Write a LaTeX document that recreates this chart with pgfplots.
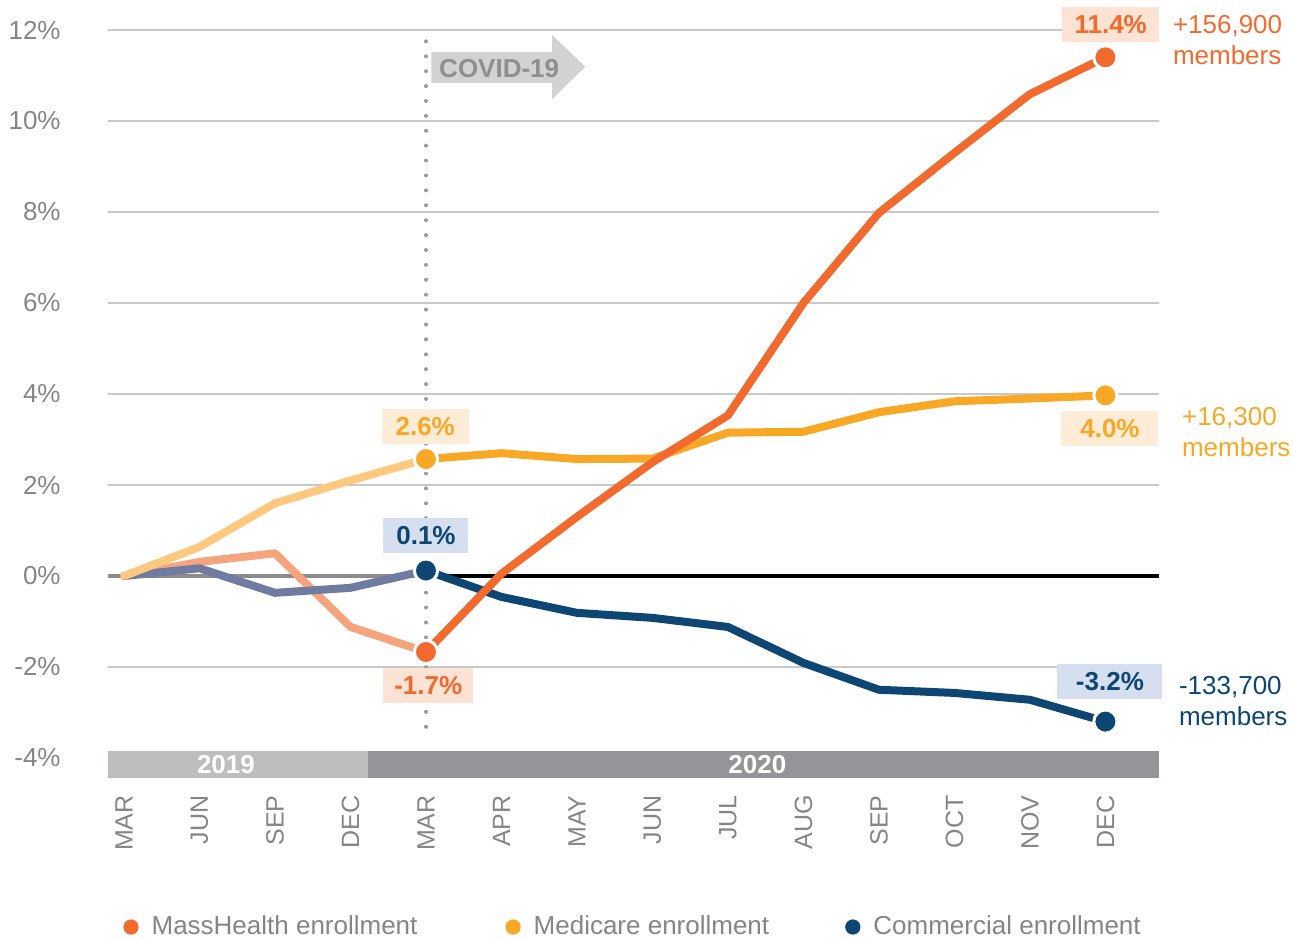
\documentclass[border=0pt]{standalone}
\usepackage{fontspec}
\setmainfont{Liberation Sans}
\usepackage{pgfplots}
\usepackage{pgfplotstable}
\pgfplotsset{compat=1.18}

\definecolor{colMH}{HTML}{F26A2E}
\definecolor{colMHl}{HTML}{F5A47D}
\definecolor{colMC}{HTML}{F9A826}
\definecolor{colMCl}{HTML}{FDC97E}
\definecolor{colCM}{HTML}{0D4673}
\definecolor{colCMl}{HTML}{6F7BA1}
\definecolor{mhbg}{HTML}{FDE3D4}
\definecolor{mcbg}{HTML}{FEECD6}
\definecolor{cmbg}{HTML}{D5DFF0}
\definecolor{tickgray}{HTML}{858585}
\definecolor{gridgray}{HTML}{C8C8C8}
\definecolor{bar19}{HTML}{BDBEC0}
\definecolor{bar20}{HTML}{939598}
\definecolor{covid}{HTML}{D1D2D4}
\definecolor{covidtxt}{HTML}{8E8F91}
\definecolor{dotgray}{HTML}{9A9A9A}
\definecolor{zerogray}{HTML}{8C8C8C}

% 2019 segments (MAR19..MAR20) and 2020 segments (MAR20..DEC20)
\pgfplotstableread{
x y
0 0
1 0.31
2 0.50
3 -1.12
4 -1.67
}\mhA
\pgfplotstableread{
x y
4 -1.67
5 0.05
6 1.30
7 2.50
8 3.53
9 6.00
10 7.98
11 9.30
12 10.59
13 11.40
}\mhB
\pgfplotstableread{
x y
0 0
1 0.64
2 1.60
3 2.10
4 2.57
}\mcA
\pgfplotstableread{
x y
4 2.57
5 2.70
6 2.57
7 2.58
8 3.15
9 3.17
10 3.60
11 3.84
12 3.90
13 3.97
}\mcB
\pgfplotstableread{
x y
0 0
1 0.17
2 -0.37
3 -0.26
4 0.12
}\cmA
\pgfplotstableread{
x y
4 0.12
5 -0.46
6 -0.81
7 -0.92
8 -1.12
9 -1.91
10 -2.50
11 -2.57
12 -2.72
13 -3.20
}\cmB

\begin{document}
\begin{tikzpicture}
\begin{axis}[
  scale only axis, width=525.5pt, height=374pt,
  xmin=-0.212, xmax=13.71, ymin=-4.44, ymax=12,
  clip=false,
  axis line style={draw=none},
  major tick length=0pt, tick style={draw=none},
  xtick={0,...,13},
  xticklabels={MAR,JUN,SEP,DEC,MAR,APR,MAY,JUN,JUL,AUG,SEP,OCT,NOV,DEC},
  ytick={-4,-2,0,2,4,6,8,10,12},
  yticklabels={-4\%,-2\%,0\%,2\%,4\%,6\%,8\%,10\%,12\%},
  xticklabel style={rotate=90, anchor=east, inner sep=0pt, font=\fontsize{12.5}{12.5}\selectfont, text=tickgray},
  xticklabel shift=8.5pt,
  yticklabel style={anchor=east, inner sep=0pt, font=\fontsize{13}{13}\selectfont, text=tickgray},
  yticklabel shift=23.5pt,
  ymajorgrids, grid style={gridgray, line width=0.75pt},
  /pgf/number format/assume math mode=true,
  legend columns=3,
  legend image code/.code={\fill[#1] (0pt,0pt) circle (3.6pt);},
  legend style={at={(0.01427,-0.1992)}, anchor=west, draw=none, fill=none,
    inner sep=0pt, font=\fontsize{13}{13}\selectfont, text=tickgray,
    nodes={inner sep=0pt},
    /tikz/every odd column/.append style={column sep=6.5pt},
    /tikz/every even column/.append style={column sep=44pt}},
]
\addlegendimage{colMH}
\addlegendentry{MassHealth enrollment}
\addlegendimage{colMC}
\addlegendentry{Medicare enrollment\kern-6pt\null}
\addlegendimage{colCM}
\addlegendentry{Commercial enrollment}

% year bar
\fill[bar19] (axis cs:-0.212,-3.84) rectangle (axis cs:3.23,-4.44);
\fill[bar20] (axis cs:3.23,-3.84) rectangle (axis cs:13.71,-4.44);
\node[text=white, font=\bfseries\fontsize{13}{13}\selectfont] at (axis cs:1.35,-4.15) {2019};
\node[text=white, font=\bfseries\fontsize{13}{13}\selectfont] at (axis cs:8.39,-4.15) {2020};

% zero line
\draw[zerogray, line width=2.4pt] (axis cs:-0.212,0) -- (axis cs:4,0);
\draw[black, line width=1.8pt] (axis cs:4,0) -- (axis cs:13.71,0);

% covid marker
\draw[dotgray, line width=2pt, line cap=round, dash pattern=on 0pt off 7.45pt] (axis cs:4,11.75) -- (axis cs:4,-3.64);
\fill[covid] (axis cs:4.07,11.52) -- (axis cs:5.67,11.52) -- (axis cs:5.67,11.89) -- (axis cs:6.11,11.19)
  -- (axis cs:5.67,10.48) -- (axis cs:5.67,10.84) -- (axis cs:4.07,10.84) -- cycle;
\node[text=covidtxt, font=\bfseries\fontsize{13}{13}\selectfont] at (axis cs:4.97,11.16) {COVID-19};

% 2019 faded lines
\addplot[forget plot, colMHl, line width=4pt, line join=round, line cap=round] table {\mhA};
\addplot[forget plot, colCMl, line width=4pt, line join=round, line cap=round] table {\cmA};
\addplot[forget plot, colMCl, line width=4pt, line join=round, line cap=round] table {\mcA};
% 2020 lines
\addplot[forget plot, colMC, line width=4pt, line join=round] table {\mcB};
\addplot[forget plot, colCM, line width=4pt, line join=round] table {\cmB};
\addplot[forget plot, colMH, line width=4pt, line join=round] table {\mhB};

% end markers
\addplot[forget plot, only marks, mark=*, mark size=5.8pt, mark options={fill=colMC, draw=white, line width=1.5pt}] coordinates {(4,2.57) (13,3.97)};
\addplot[forget plot, only marks, mark=*, mark size=5.8pt, mark options={fill=colCM, draw=white, line width=1.5pt}] coordinates {(4,0.12) (13,-3.20)};
\addplot[forget plot, only marks, mark=*, mark size=5.8pt, mark options={fill=colMH, draw=white, line width=1.5pt}] coordinates {(4,-1.67) (13,11.40)};

% value labels
\tikzset{lbl/.style={font=\bfseries\fontsize{13}{13}\selectfont, inner xsep=0pt, inner ysep=0pt, minimum height=17.5pt}}
\node[lbl, fill=mhbg, text=colMH, minimum width=48.5pt] at (axis cs:13.07,12.13) {11.4\%};
\node[lbl, fill=mcbg, text=colMC, minimum width=48.5pt] at (axis cs:13.06,3.25) {4.0\%};
\node[lbl, fill=cmbg, text=colCM, minimum width=52.5pt] at (axis cs:13.06,-2.32) {-3.2\%};
\node[lbl, fill=mcbg, text=colMC, minimum width=43.5pt] at (axis cs:3.99,3.29) {2.6\%};
\node[lbl, fill=cmbg, text=colCM, minimum width=42.5pt] at (axis cs:4.0,0.89) {0.1\%};
\node[lbl, fill=mhbg, text=colMH, minimum width=45pt] at (axis cs:4.03,-2.41) {-1.7\%};

% member counts
\tikzset{mem/.style={anchor=west, align=left, inner sep=0pt, font=\fontsize{13}{15.5}\selectfont}}
\node[mem, text=colMH] at (axis cs:13.89,11.79) {+156,900\\members};
\node[mem, text=colMC] at (axis cs:14.01,3.16) {+16,300\\members};
\node[mem, text=colCM] at (axis cs:13.97,-2.75) {-133,700\\members};
\end{axis}
\pgfresetboundingbox
\path (current axis.south west) ++(-54pt,-80.5pt) rectangle ++(646.5pt,469.5pt);
\end{tikzpicture}
\end{document}
